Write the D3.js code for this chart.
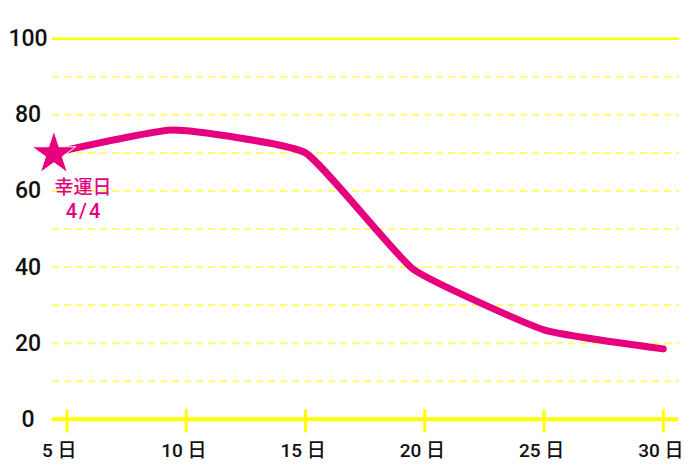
<!DOCTYPE html>
<html>
<head>
<meta charset="utf-8">
<script src="https://cdn.jsdelivr.net/npm/d3@7"></script>
<style>
  body { margin: 0; background: #fff; }
  svg { display: block; font-family: Roboto, "Noto Sans CJK JP", sans-serif; }
</style>
</head>
<body>
<div id="chart"></div>
<script>
// data
const days = [4.45, 9.45, 15, 19.5, 25, 30];
const values = [70, 76, 70, 39.5, 23.5, 18.5];
const xTicks = [5, 10, 15, 20, 25, 30];
const yLabels = [0, 20, 40, 60, 80, 100];
const gridValues = [10, 20, 30, 40, 50, 60, 70, 80, 90];
const markLabel = ["幸運日", "4/4"];

const width = 700, height = 467;
const plotLeft = 52, plotRight = 679;
const pink = "#e6007e";

const svg = d3.select("#chart").append("svg")
  .attr("width", width)
  .attr("height", height);

const x = d3.scaleLinear().domain([5, 30]).range([67, 663.3]);
const y = d3.scaleLinear().domain([0, 100]).range([419.3, 38.7]);

// dashed grid
svg.append("g")
  .selectAll("line")
  .data(gridValues)
  .join("line")
  .attr("x1", plotLeft)
  .attr("x2", plotRight)
  .attr("y1", d => y(d))
  .attr("y2", d => y(d))
  .attr("stroke", "#ffff66")
  .attr("stroke-width", 2)
  .attr("stroke-dasharray", "7,5");

// top solid line
svg.append("line")
  .attr("x1", plotLeft).attr("x2", plotRight)
  .attr("y1", y(100)).attr("y2", y(100))
  .attr("stroke", "#ffff00")
  .attr("stroke-width", 2.5);

// x axis line + ticks
svg.append("line")
  .attr("x1", plotLeft).attr("x2", 678)
  .attr("y1", y(0)).attr("y2", y(0))
  .attr("stroke", "#ffff00")
  .attr("stroke-width", 4);

svg.append("g")
  .selectAll("line")
  .data(xTicks)
  .join("line")
  .attr("x1", d => x(d))
  .attr("x2", d => x(d))
  .attr("y1", y(0) - 10)
  .attr("y2", y(0) + 13)
  .attr("stroke", "#ffff00")
  .attr("stroke-width", 3);

// x labels
svg.append("g")
  .selectAll("text")
  .data(xTicks)
  .join("text")
  .attr("x", d => x(d) - 25)
  .attr("y", 457)
  .attr("font-size", 19)
  .attr("font-weight", 500)
  .attr("fill", "#111")
  .text(d => d + " 日");

// y labels
svg.append("g")
  .selectAll("text")
  .data(yLabels)
  .join("text")
  .attr("x", 28)
  .attr("y", d => y(d) + 7.5)
  .attr("text-anchor", "middle")
  .attr("font-size", 23)
  .attr("font-weight", 500)
  .attr("fill", "#111")
  .text(d => d);

// the line
const pts = days.map((d, i) => [d, values[i]]);
const line = d3.line()
  .x(d => x(d[0]))
  .y(d => y(d[1]))
  .curve(d3.curveCardinal.tension(0.6));

svg.append("path")
  .datum(pts)
  .attr("d", line)
  .attr("fill", "none")
  .attr("stroke", pink)
  .attr("stroke-width", 7)
  .attr("stroke-linecap", "round")
  .attr("stroke-linejoin", "round");

// star on first point
const r = 23;
svg.append("path")
  .attr("d", d3.symbol(d3.symbolStar, (r * r) / 0.8908130915292852)())
  .attr("transform", `translate(${x(days[0])},${y(values[0]) + 1})`)
  .attr("fill", pink)
  .attr("stroke", "#fff")
  .attr("stroke-width", 1);

// annotation
svg.append("text")
  .attr("x", 83)
  .attr("y", 194)
  .attr("text-anchor", "middle")
  .attr("font-family", "'Noto Sans CJK JP', sans-serif")
  .attr("font-size", 19)
  .attr("font-weight", 500)
  .attr("fill", pink)
  .text(markLabel[0]);

svg.append("text")
  .attr("x", 84)
  .attr("y", 218)
  .attr("text-anchor", "middle")
  .attr("font-size", 20)
  .attr("font-weight", 500)
  .attr("letter-spacing", 2)
  .attr("fill", pink)
  .text(markLabel[1]);
</script>
</body>
</html>
